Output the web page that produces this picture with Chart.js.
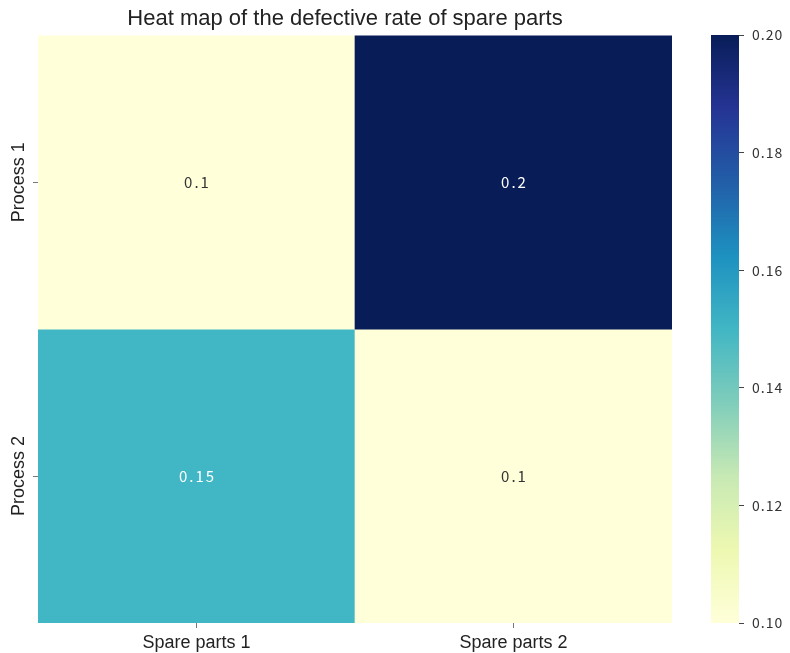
<!DOCTYPE html>
<html>
<head>
<meta charset="utf-8">
<script src="https://cdn.jsdelivr.net/npm/chart.js@4/dist/chart.umd.min.js"></script>
<style>
  html, body { margin: 0; padding: 0; background: #ffffff; }
  #wrap { position: relative; width: 790px; height: 653px; }
  #heat { position: absolute; left: 0; top: 0; }
  #bar { position: absolute; left: 700px; top: 0; }
</style>
</head>
<body>
<div id="wrap">
  <canvas id="heat" width="790" height="653"></canvas>
  <canvas id="bar" width="90" height="653"></canvas>
</div>
<script>
// Defective rate per process (rows) and spare part (columns)
const columns = ['Spare parts 1', 'Spare parts 2'];
const rows = ['Process 1', 'Process 2'];
const process1Rates = [0.1, 0.2];
const process2Rates = [0.15, 0.1];
const rates = [process1Rates, process2Rates];
const colorbarTicks = [0.10, 0.12, 0.14, 0.16, 0.18, 0.20];
const vmin = 0.1, vmax = 0.2;

// YlGnBu palette
const ylgnbu = ['#ffffd9', '#edf8b1', '#c7e9b4', '#7fcdbb', '#41b6c4', '#1d91c0', '#225ea8', '#253494', '#081d58'];

function hexToRgb(h) {
  const n = parseInt(h.slice(1), 16);
  return [(n >> 16) & 255, (n >> 8) & 255, n & 255];
}
function colormapRgb(v) {
  let t = (v - vmin) / (vmax - vmin);
  t = Math.max(0, Math.min(1, t));
  const p = t * (ylgnbu.length - 1);
  const i = Math.min(Math.floor(p), ylgnbu.length - 2);
  const f = p - i;
  const a = hexToRgb(ylgnbu[i]), b = hexToRgb(ylgnbu[i + 1]);
  return a.map((c, k) => Math.round(c + (b[k] - c) * f));
}
function colormap(v) {
  const c = colormapRgb(v);
  return 'rgb(' + c.join(',') + ')';
}
function textColorFor(v) {
  const c = colormapRgb(v).map(x => {
    x /= 255;
    return x <= 0.03928 ? x / 12.92 : Math.pow((x + 0.055) / 1.055, 2.4);
  });
  const lum = 0.2126 * c[0] + 0.7152 * c[1] + 0.0722 * c[2];
  return lum > 0.408 ? '#333333' : '#ffffff';
}

const sansFamily = '"Liberation Sans", Arial, sans-serif';
const numFamily = '"Noto Sans CJK SC", "DejaVu Sans", sans-serif';

// Cell values written in the middle of each cell
const cellLabels = {
  id: 'cellLabels',
  afterDatasetsDraw(chart) {
    const ctx = chart.ctx;
    ctx.save();
    ctx.font = '15px ' + numFamily;
    ctx.letterSpacing = '2px';
    ctx.textAlign = 'center';
    ctx.textBaseline = 'middle';
    chart.data.datasets.forEach((ds, i) => {
      chart.getDatasetMeta(i).data.forEach((el, j) => {
        const v = rates[i][j];
        ctx.fillStyle = textColorFor(v);
        ctx.fillText(String(v), el.x + 1, (el.y + el.base) / 2);
      });
    });
    ctx.restore();
  }
};

// Rotated row labels on the left axis
const rowLabels = {
  id: 'rowLabels',
  afterDraw(chart) {
    const scale = chart.scales.y;
    const ctx = chart.ctx;
    ctx.save();
    ctx.font = '18px ' + sansFamily;
    ctx.fillStyle = '#222222';
    ctx.textAlign = 'center';
    ctx.textBaseline = 'middle';
    scale.ticks.forEach(t => {
      const y = scale.getPixelForValue(t.value);
      ctx.save();
      ctx.translate(scale.left + 19, y);
      ctx.rotate(-Math.PI / 2);
      ctx.fillText(rows[Math.floor(t.value)], 0, 0);
      ctx.restore();
    });
    ctx.restore();
  }
};

new Chart(document.getElementById('heat'), {
  type: 'bar',
  data: {
    labels: columns,
    datasets: rows.map((r, i) => ({
      label: r,
      data: columns.map(() => [i, i + 1]),
      backgroundColor: rates[i].map(colormap),
      borderWidth: 0,
      grouped: false,
      barPercentage: 1,
      categoryPercentage: 1
    }))
  },
  options: {
    responsive: false,
    animation: false,
    layout: { padding: { left: 0, right: 100, top: 0, bottom: 0 } },
    plugins: {
      legend: { display: false },
      tooltip: { enabled: false },
      title: {
        display: true,
        text: 'Heat map of the defective rate of spare parts',
        color: '#222222',
        font: { family: sansFamily, size: 22, weight: 'normal', lineHeight: 1.2 },
        padding: { top: 6, bottom: 3 }
      }
    },
    scales: {
      x: {
        type: 'category',
        grid: { display: true, offset: false, drawOnChartArea: false, drawTicks: true, tickLength: 5, color: '#777' },
        border: { display: false },
        ticks: { color: '#222222', font: { family: sansFamily, size: 18 }, padding: 4 },
        afterFit(s) { s.height = 30; }
      },
      y: {
        type: 'linear',
        min: 0,
        max: rows.length,
        reverse: true,
        afterBuildTicks(s) { s.ticks = rows.map((r, i) => ({ value: i + 0.5 })); },
        grid: { display: true, drawOnChartArea: false, drawTicks: true, tickLength: 5, color: '#777' },
        border: { display: false },
        ticks: { display: false },
        afterFit(s) { s.width = 38; }
      },
      // empty spacer on the right so the heat map ends before the colour bar
      spacer: {
        type: 'linear',
        axis: 'y',
        position: 'right',
        display: true,
        grid: { display: false },
        border: { display: false },
        ticks: { display: false },
        afterFit(s) { s.width = 18; }
      }
    }
  },
  plugins: [cellLabels, rowLabels]
});

// Colour bar
new Chart(document.getElementById('bar'), {
  type: 'bar',
  data: {
    labels: [''],
    datasets: [{
      data: [[vmin, vmax]],
      borderWidth: 0,
      barPercentage: 1,
      categoryPercentage: 1,
      backgroundColor(ctx) {
        const area = ctx.chart.chartArea;
        if (!area) return ylgnbu[0];
        const g = ctx.chart.ctx.createLinearGradient(0, area.bottom, 0, area.top);
        ylgnbu.forEach((c, i) => g.addColorStop(i / (ylgnbu.length - 1), c));
        return g;
      }
    }]
  },
  options: {
    responsive: false,
    animation: false,
    layout: { padding: { left: 11, right: 6, top: 35, bottom: 30 } },
    plugins: { legend: { display: false }, tooltip: { enabled: false } },
    scales: {
      x: { display: false },
      y: {
        position: 'right',
        min: vmin,
        max: vmax,
        afterBuildTicks(s) { s.ticks = colorbarTicks.map(v => ({ value: v })); },
        grid: { display: true, drawOnChartArea: false, drawTicks: true, tickLength: 5, color: '#444' },
        border: { display: false },
        ticks: {
          color: '#333333',
          padding: 8,
          font: { family: numFamily, size: 14 },
          callback: v => v.toFixed(2)
        },
        afterFit(s) { s.width = 45; }
      }
    }
  },
  plugins: [{
    id: 'tickSpacing',
    beforeDraw(chart) { chart.ctx.letterSpacing = '1px'; }
  }]
});
</script>
</body>
</html>
